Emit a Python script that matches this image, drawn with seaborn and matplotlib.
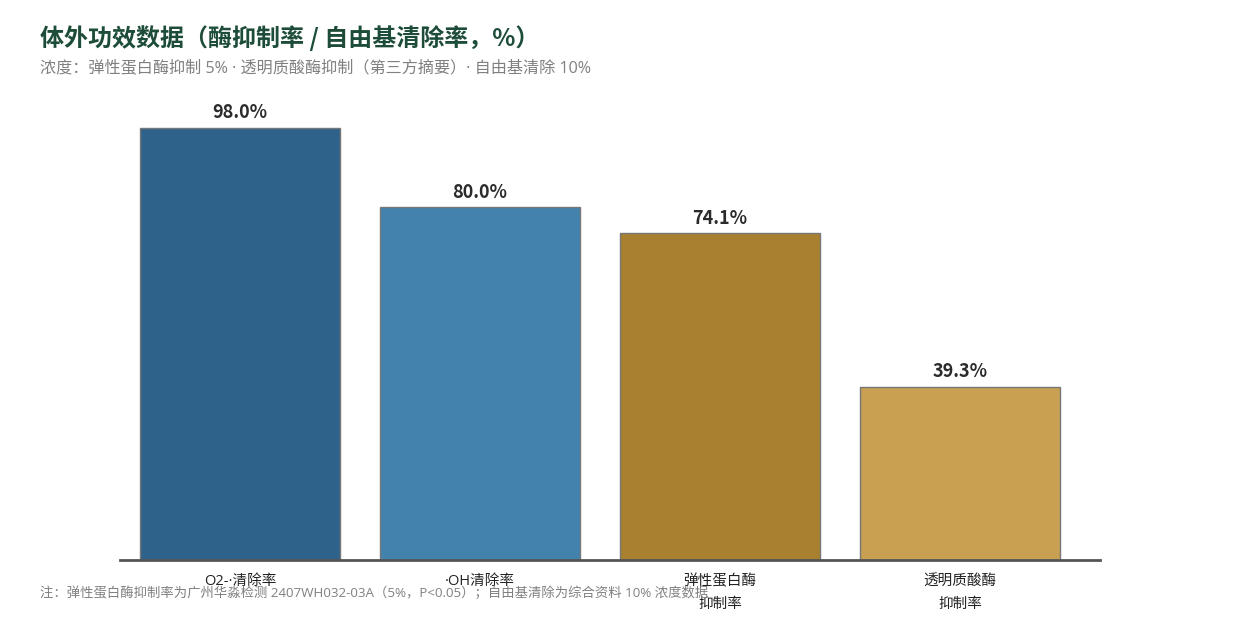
import matplotlib
matplotlib.use("Agg")
import matplotlib.pyplot as plt
import seaborn as sns
import pandas as pd

categories = ["O2-·清除率", "·OH清除率", "弹性蛋白酶\n抑制率", "透明质酸酶\n抑制率"]
values = [98.0, 80.0, 74.1, 39.3]
colors = ["#2f628b", "#4282ad", "#a88030", "#c9a052"]
value_labels = ["98.0%", "80.0%", "74.1%", "39.3%"]

title = "体外功效数据（酶抑制率 / 自由基清除率，%）"
subtitle = "浓度：弹性蛋白酶抑制 5% · 透明质酸酶抑制（第三方摘要）· 自由基清除 10%"
note = "注：弹性蛋白酶抑制率为广州华淼检测 2407WH032-03A（5%，P<0.05）；自由基清除为综合资料 10% 浓度数据"

sns.set_theme(style="white")
plt.rcParams["font.family"] = ["Noto Sans CJK SC", "DejaVu Sans"]
latin_first = ["Open Sans", "Noto Sans CJK SC", "DejaVu Sans"]

df = pd.DataFrame({"cat": categories, "val": values})

fig = plt.figure(figsize=(12.4, 6.4), dpi=100)
ax = fig.add_axes([120/1240, 80/640, 980/1240, (560-84.8)/640])

sns.barplot(data=df, x="cat", y="val", hue="cat", palette=colors, legend=False,
            width=0.833, edgecolor="#777777", linewidth=1.0, saturation=1, ax=ax)

ax.set_xlim(-0.5, 3.583)
ax.set_ylim(0, 107.8)
for i, (v, lab) in enumerate(zip(values, value_labels)):
    ax.annotate(lab, (i, v), xytext=(0, 4), textcoords="offset points",
                ha="center", va="bottom", fontsize=13, fontweight="bold", color="#2b2b2b")

ax.set_xlabel("")
ax.set_ylabel("")
ax.set_yticks([])
for s in ["top", "right", "left"]:
    ax.spines[s].set_visible(False)
ax.spines["bottom"].set_color("#555555")
ax.spines["bottom"].set_linewidth(2)
ax.tick_params(axis="x", length=0, pad=10, labelsize=10.5, labelcolor="#222222")
for t in ax.get_xticklabels():
    t.set_family(latin_first)
    t.set_linespacing(1.75)

fig.text(40/1240, 1 - 38/640, title, fontsize=17.3, fontweight="bold", color="#1d4d38",
         ha="left", va="center")
fig.text(40/1240, 1 - 69/640, subtitle, fontsize=11.6, color="#808080", ha="left", va="center",
         family=latin_first)
fig.text(40/1240, 1 - 593/640, note, fontsize=9.6, color="#808080", ha="left", va="center",
         family=latin_first)

fig.savefig("out.png", dpi=100)
